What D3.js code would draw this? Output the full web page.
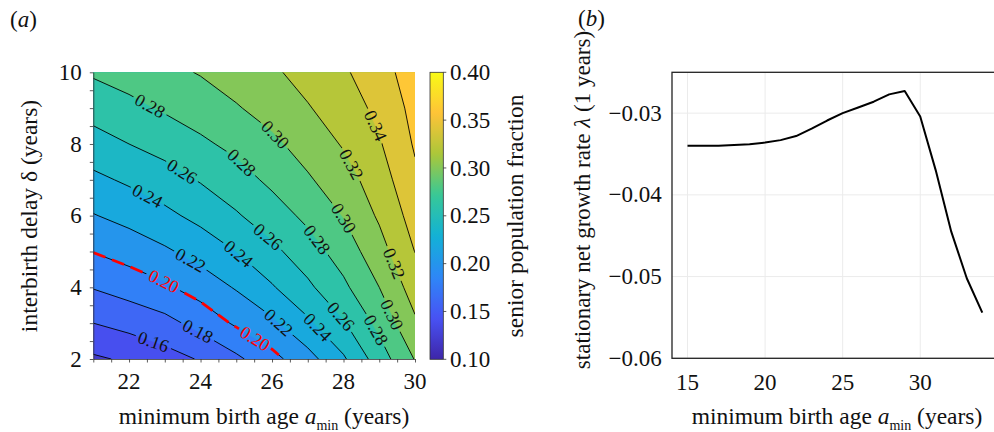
<!DOCTYPE html>
<html>
<head>
<meta charset="utf-8">
<script src="https://cdn.jsdelivr.net/npm/d3@7"></script>
<style>
  body { margin: 0; background: #fff; }
  svg { display: block; }
  text { font-family: "Liberation Serif", "Times New Roman", serif; fill: #111; }
</style>
</head>
<body>
<svg id="chart" width="994" height="432"></svg>
<script>
// ---------------- DATA ----------------
// Panel (a): senior population fraction on a grid of minimum birth age (columns) x interbirth delay (rows)
const birthAges = [21, 22, 23, 24, 25, 26, 27, 28, 29, 30];
const interbirthDelays = [2, 3, 4, 5, 6, 7, 8, 9, 10];
const seniorFraction = [
  [0.137, 0.143, 0.152, 0.1616, 0.1759, 0.194, 0.2126, 0.2373, 0.270, 0.301],   // delta = 2
  [0.160, 0.1667, 0.1738, 0.1868, 0.203, 0.216, 0.2364, 0.2582, 0.2856, 0.317], // delta = 3
  [0.181, 0.1882, 0.1969, 0.2089, 0.2217, 0.2382, 0.2562, 0.276, 0.300, 0.3293], // delta = 4
  [0.2006, 0.2084, 0.2171, 0.2274, 0.2402, 0.2552, 0.271, 0.289, 0.3122, 0.3404], // delta = 5
  [0.219, 0.2264, 0.2352, 0.2458, 0.258, 0.2706, 0.2846, 0.3008, 0.3228, 0.3484], // delta = 6
  [0.2355, 0.2431, 0.2517, 0.2615, 0.2718, 0.2843, 0.2976, 0.3116, 0.3304, 0.3563], // delta = 7
  [0.252, 0.260, 0.2672, 0.2765, 0.2851, 0.2958, 0.3084, 0.3217, 0.3381, 0.3621], // delta = 8
  [0.2677, 0.2746, 0.2824, 0.2893, 0.2984, 0.3078, 0.3187, 0.3295, 0.3451, 0.366], // delta = 9
  [0.2825, 0.2887, 0.2948, 0.3013, 0.3092, 0.3171, 0.3267, 0.3372, 0.352, 0.370]  // delta = 10
];
const contourLevels = [0.14, 0.16, 0.18, 0.20, 0.22, 0.24, 0.26, 0.28, 0.30, 0.32, 0.34, 0.36];
const highlightLevel = 0.20;
const panelAXTicks = [22, 24, 26, 28, 30];
const panelAYTicks = [2, 4, 6, 8, 10];
const colorbarTicks = [0.10, 0.15, 0.20, 0.25, 0.30, 0.35, 0.40];

// Panel (b): stationary net growth rate vs minimum birth age
const minBirthAges = [15, 16, 17, 18, 19, 20, 21, 22, 23, 24, 25, 26, 27, 28, 29, 30, 31, 32, 33, 34];
const growthRate = [-0.0340, -0.0340, -0.0340, -0.0339, -0.0338, -0.0336, -0.0333, -0.0328, -0.0319, -0.0309,
                    -0.0300, -0.0293, -0.0286, -0.0277, -0.0273, -0.0304, -0.0370, -0.0445, -0.0502, -0.0544];
const panelBXTicks = [15, 20, 25, 30];
const panelBYTicks = [-0.06, -0.05, -0.04, -0.03];

// ---------------- STYLE / LAYOUT ----------------
const parulaAnchors = ["#3e26a8", "#4852f4", "#2e87f7", "#12b1d6", "#37c897", "#abc739", "#fec338", "#f9fb15"];
const colorRange = [0.10, 0.40];
const bandFloor = 0.12;
// contour label placement along each line: first label offset (px) and number of labels
const labelStart = {0.16: 63, 0.18: 113, 0.20: 76, 0.22: 108, 0.24: 60, 0.26: 100, 0.28: 63, 0.30: 103, 0.32: 115, 0.34: 59};
const labelCount = {0.16: 1, 0.18: 1, 0.20: 2, 0.22: 2, 0.24: 3, 0.26: 3, 0.28: 4, 0.30: 3, 0.32: 2, 0.34: 1};
const labelSpacing = 108;

const svg = d3.select("#chart");
const defs = svg.append("defs");
const parula = d3.piecewise(d3.interpolateRgb, parulaAnchors);
const cNorm = d3.scaleLinear().domain(colorRange).range([0, 1]).clamp(true);
const color = v => parula(cNorm(v));
const fmt2 = d3.format(".2f");

// ---------------- PANEL (a) ----------------
const xA = d3.scaleLinear().domain([21, 30]).range([93.3, 415]);
const yA = d3.scaleLinear().domain([2, 10]).range([359, 72.3]);
const nx = birthAges.length, ny = interbirthDelays.length;
const dA = birthAges[1] - birthAges[0], dD = interbirthDelays[1] - interbirthDelays[0];
const toX = g => xA(birthAges[0] + (g - 0.5) * dA);
const toY = g => yA(interbirthDelays[0] + (g - 0.5) * dD);

const values = seniorFraction.flat();
const contours = d3.contours().size([nx, ny]).thresholds(contourLevels)(values);

defs.append("clipPath").attr("id", "clipA").append("rect")
  .attr("x", xA.range()[0]).attr("y", yA.range()[1])
  .attr("width", xA.range()[1] - xA.range()[0]).attr("height", yA.range()[0] - yA.range()[1]);

const mask = defs.append("mask").attr("id", "gapMask")
  .attr("maskUnits", "userSpaceOnUse").attr("x", 0).attr("y", 0).attr("width", 994).attr("height", 432);
mask.append("rect").attr("x", 0).attr("y", 0).attr("width", 994).attr("height", 432).attr("fill", "white");

const fillG = svg.append("g").attr("clip-path", "url(#clipA)");
fillG.append("rect")
  .attr("x", xA.range()[0]).attr("y", yA.range()[1])
  .attr("width", xA.range()[1] - xA.range()[0]).attr("height", yA.range()[0] - yA.range()[1])
  .attr("fill", color(bandFloor));

const ringLine = d3.line().x(p => toX(p[0])).y(p => toY(p[1]));
fillG.selectAll("path.band").data(contours).join("path")
  .attr("class", "band")
  .attr("d", c => c.coordinates.map(poly => poly.map(r => ringLine(r) + "Z").join("")).join(""))
  .attr("fill", c => color(c.value))
  .attr("fill-rule", "evenodd")
  .attr("stroke", c => color(c.value))
  .attr("stroke-width", 0.4);

// isolines: pieces of the rings inside the visible grid area
const eps = 1e-6;
const inside = p => p[0] >= 0.5 - eps && p[0] <= nx - 0.5 + eps && p[1] >= 0.5 - eps && p[1] <= ny - 0.5 + eps;
function isolineRuns(multi) {
  const runs = [];
  multi.coordinates.forEach(poly => poly.forEach(ring => {
    let pts = ring.slice(0, -1);
    const start = pts.findIndex(p => !inside(p));
    if (start < 0) { runs.push(ring); return; }
    pts = pts.slice(start).concat(pts.slice(0, start));
    let cur = [];
    pts.forEach(p => {
      if (inside(p)) cur.push(p);
      else { if (cur.length > 1) runs.push(cur); cur = []; }
    });
    if (cur.length > 1) runs.push(cur);
  }));
  return runs.map(r => {
    const px = r.map(p => [toX(p[0]), toY(p[1])]);
    return px[0][0] > px[px.length - 1][0] ? px.reverse() : px;
  });
}

const lineG = svg.append("g").attr("clip-path", "url(#clipA)").append("g").attr("mask", "url(#gapMask)");
const labelG = svg.append("g");
const openLine = d3.line();

contours.forEach(c => {
  const lvl = +c.value.toFixed(2);
  const runs = isolineRuns(c);
  runs.forEach((run, i) => {
    const path = lineG.append("path").attr("d", openLine(run))
      .attr("fill", "none").attr("stroke", "#000").attr("stroke-width", 0.9);
    const isHi = Math.abs(lvl - highlightLevel) < 1e-9;
    if (isHi) {
      lineG.append("path").attr("d", openLine(run))
        .attr("fill", "none").attr("stroke", "#ff0000").attr("stroke-width", 2.8)
        .attr("stroke-dasharray", "13,7");
    }
    if (i === 0 && labelStart[lvl] !== undefined) {
      const node = path.node();
      const L = node.getTotalLength();
      for (let k = 0; k < labelCount[lvl]; k++) {
        const s = Math.min(labelStart[lvl] + k * labelSpacing, L - 12);
        const p = node.getPointAtLength(s);
        const a = node.getPointAtLength(Math.max(0, s - 5));
        const b = node.getPointAtLength(Math.min(L, s + 5));
        let ang = Math.atan2(b.y - a.y, b.x - a.x) * 180 / Math.PI;
        if (ang > 90) ang -= 180;
        if (ang < -90) ang += 180;
        const tr = `translate(${p.x},${p.y}) rotate(${ang})`;
        const t = labelG.append("text").attr("transform", tr)
          .attr("text-anchor", "middle").attr("dy", "0.33em")
          .style("font-size", "18px")
          .style("fill", isHi ? "#ff0000" : "#111")
          .text(fmt2(lvl));
        const w = t.node().getComputedTextLength();
        mask.append("rect").attr("transform", tr)
          .attr("x", -w / 2 - 3).attr("y", -7).attr("width", w + 6).attr("height", 14)
          .attr("fill", "black");
      }
    }
  });
});

// axes (a)
const axisStyle = g => { g.selectAll("path,line").attr("stroke", "#333").attr("stroke-width", 0.8); g.selectAll("text").remove(); };
svg.append("g").attr("transform", `translate(0,${yA.range()[0]})`)
  .call(d3.axisBottom(xA).tickValues(xA.ticks(18)).tickSize(3.5).tickSizeOuter(0).tickFormat(""))
  .call(axisStyle);
svg.append("g").attr("transform", `translate(${xA.range()[0]},0)`)
  .call(d3.axisLeft(yA).tickValues(yA.ticks(16)).tickSize(3.5).tickSizeOuter(0).tickFormat(""))
  .call(axisStyle);

svg.append("g").selectAll("text").data(panelAXTicks).join("text")
  .attr("x", d => xA(d)).attr("y", 389).attr("text-anchor", "middle")
  .style("font-size", "23px").text(d => d);
svg.append("g").selectAll("text").data(panelAYTicks).join("text")
  .attr("x", 81.7).attr("y", d => yA(d)).attr("dy", "0.33em").attr("text-anchor", "end")
  .style("font-size", "23px").text(d => d);

// x label (a)
const xlabA = svg.append("text").attr("x", 264).attr("y", 424).attr("text-anchor", "middle").style("font-size", "23.5px");
xlabA.append("tspan").text("minimum birth age ");
xlabA.append("tspan").style("font-style", "italic").text("a");
xlabA.append("tspan").attr("dy", 6).style("font-size", "14px").text("min");
xlabA.append("tspan").attr("dy", -6).text(" (years)");

// y label (a)
svg.append("text").attr("transform", "translate(36.5,216) rotate(-90)").attr("text-anchor", "middle")
  .style("font-size", "23.5px").text("interbirth delay δ (years)");

// colorbar
const cbX = 430, cbW = 13.3;
const cbY = d3.scaleLinear().domain(colorRange).range([359.3, 72.3]);
const grad = defs.append("linearGradient").attr("id", "parulaGrad")
  .attr("x1", 0).attr("y1", 1).attr("x2", 0).attr("y2", 0);
d3.range(0, 1.0001, 0.02).forEach(t => grad.append("stop").attr("offset", t).attr("stop-color", parula(t)));
svg.append("rect").attr("x", cbX).attr("y", cbY.range()[1]).attr("width", cbW)
  .attr("height", cbY.range()[0] - cbY.range()[1]).attr("fill", "url(#parulaGrad)")
  .attr("stroke", "#333").attr("stroke-width", 0.8);
svg.append("g").selectAll("line").data(colorbarTicks).join("line")
  .attr("x1", cbX + cbW).attr("x2", cbX + cbW + 3).attr("y1", d => cbY(d)).attr("y2", d => cbY(d))
  .attr("stroke", "#333").attr("stroke-width", 0.8);
svg.append("g").selectAll("text").data(colorbarTicks).join("text")
  .attr("x", 450).attr("y", d => cbY(d)).attr("dy", "0.33em")
  .style("font-size", "23px").text(d => fmt2(d));
svg.append("text").attr("transform", "translate(523,216) rotate(-90)").attr("text-anchor", "middle")
  .style("font-size", "23.5px").text("senior population fraction");

// panel tag (a)
const tagA = svg.append("text").attr("x", 10).attr("y", 27).style("font-size", "23px");
tagA.append("tspan").text("(");
tagA.append("tspan").style("font-style", "italic").text("a");
tagA.append("tspan").text(")");

// ---------------- PANEL (b) ----------------
const xB = d3.scaleLinear().domain([14, 35]).range([672, 997.8]);
const yB = d3.scaleLinear().domain([-0.06, -0.025]).range([358.3, 72.3]);

svg.append("g").selectAll("line").data(panelBXTicks).join("line")
  .attr("x1", d => xB(d)).attr("x2", d => xB(d)).attr("y1", yB.range()[1]).attr("y2", yB.range()[0])
  .attr("stroke", "#ebebeb").attr("stroke-width", 1);
svg.append("g").selectAll("line").data(panelBYTicks).join("line")
  .attr("x1", xB.range()[0]).attr("x2", xB.range()[1]).attr("y1", d => yB(d)).attr("y2", d => yB(d))
  .attr("stroke", "#ebebeb").attr("stroke-width", 1);

svg.append("rect").attr("x", xB.range()[0]).attr("y", yB.range()[1])
  .attr("width", xB.range()[1] - xB.range()[0]).attr("height", yB.range()[0] - yB.range()[1])
  .attr("fill", "none").attr("stroke", "#222").attr("stroke-width", 1.3);

svg.append("path").datum(minBirthAges.map((a, i) => [a, growthRate[i]]))
  .attr("d", d3.line().x(d => xB(d[0])).y(d => yB(d[1])))
  .attr("fill", "none").attr("stroke", "#000").attr("stroke-width", 2).attr("stroke-linejoin", "round");

svg.append("g").selectAll("text").data(panelBXTicks).join("text")
  .attr("x", d => xB(d)).attr("y", 390).attr("text-anchor", "middle")
  .style("font-size", "23px").text(d => d);
svg.append("g").selectAll("text").data(panelBYTicks).join("text")
  .attr("x", 661.7).attr("y", d => yB(d)).attr("dy", "0.33em").attr("text-anchor", "end")
  .style("font-size", "23px").text(d => fmt2(d));

const xlabB = svg.append("text").attr("x", 837).attr("y", 424).attr("text-anchor", "middle").style("font-size", "23.5px");
xlabB.append("tspan").text("minimum birth age ");
xlabB.append("tspan").style("font-style", "italic").text("a");
xlabB.append("tspan").attr("dy", 6).style("font-size", "14px").text("min");
xlabB.append("tspan").attr("dy", -6).text(" (years)");

const ylabB = svg.append("text").attr("transform", "translate(590,200) rotate(-90)").attr("text-anchor", "middle")
  .style("font-size", "23px");
ylabB.append("tspan").text("stationary net growth rate ");
ylabB.append("tspan").style("font-style", "italic").text("λ");
ylabB.append("tspan").text(" (1 years)");

const tagB = svg.append("text").attr("x", 578).attr("y", 26).style("font-size", "23px");
tagB.append("tspan").text("(");
tagB.append("tspan").style("font-style", "italic").text("b");
tagB.append("tspan").text(")");
</script>
</body>
</html>
